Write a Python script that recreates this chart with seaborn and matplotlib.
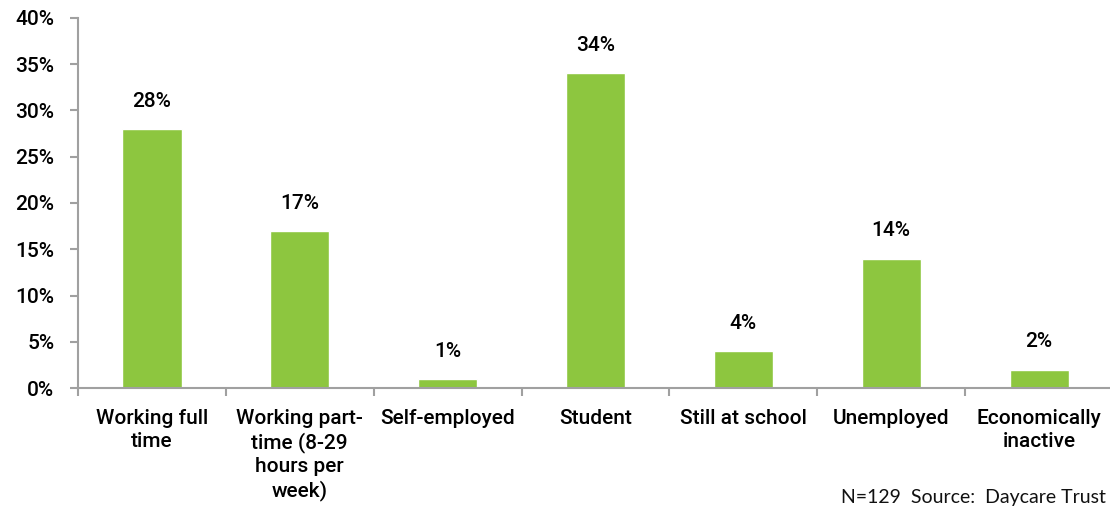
import matplotlib
matplotlib.use("Agg")
import matplotlib.pyplot as plt
import seaborn as sns
import pandas as pd
import numpy as np
from matplotlib.ticker import FuncFormatter, FixedLocator

categories = ["Working full\ntime", "Working part-\ntime (8-29\nhours per\nweek)", "Self-employed",
              "Student", "Still at school", "Unemployed", "Economically\ninactive"]
values = [28, 17, 1, 34, 4, 14, 2]
value_labels = ["28%", "17%", "1%", "34%", "4%", "14%", "2%"]
y_ticks = [0, 5, 10, 15, 20, 25, 30, 35, 40]
footnote = "N=129  Source:  Daycare Trust"

sns.set_theme(style="white")
plt.rcParams['font.family'] = ['Roboto', 'DejaVu Sans']

df = pd.DataFrame({"cat": categories, "val": values})

fig = plt.figure(figsize=(11.10, 5.08), dpi=100)
ax = fig.add_axes([78/1110, 1 - 388/508, (1113-78)/1110, (388-18)/508])

sns.barplot(data=df, x="cat", y="val", color="#8DC63F", width=0.40, ax=ax, saturation=1)

ax.set_ylim(0, 40)
ax.set_xlim(-0.5, len(categories) - 0.5)
ax.yaxis.set_major_locator(FixedLocator(y_ticks))
ax.yaxis.set_major_formatter(FuncFormatter(lambda v, p: f"{int(v)}%"))
ax.set_xlabel("")
ax.set_ylabel("")

for s in ["top", "right"]:
    ax.spines[s].set_visible(False)
for s in ["left", "bottom"]:
    ax.spines[s].set_color("#A0A0A0")
    ax.spines[s].set_linewidth(1.5)

ax.tick_params(axis="y", which="major", left=True, length=6, width=1.5, color="#A0A0A0",
               labelsize=15, labelcolor="black", pad=11)
ax.tick_params(axis="x", which="major", bottom=False, labelsize=15, labelcolor="black", pad=9)
for lab in ax.get_yticklabels():
    lab.set_fontweight("medium")
for lab in ax.get_xticklabels():
    lab.set_linespacing(1.25)
    lab.set_verticalalignment("top")
    lab.set_fontweight("medium")

# minor ticks at category boundaries
ax.set_xticks(np.arange(-0.5, len(categories), 1.0), minor=True)
ax.tick_params(axis="x", which="minor", bottom=True, length=6, width=1.5, color="#A0A0A0")

for i, (v, lab) in enumerate(zip(values, value_labels)):
    ax.annotate(lab, xy=(i, v), xytext=(0, 13), textcoords="offset points",
                ha="center", va="bottom", fontsize=15, fontweight="medium", color="black")

fig.text(1106/1110, 1 - 497/508, footnote, ha="right", va="center", fontsize=14,
         family=["Lato", "DejaVu Sans"], color="#111111")

fig.savefig("out.png", dpi=100)
